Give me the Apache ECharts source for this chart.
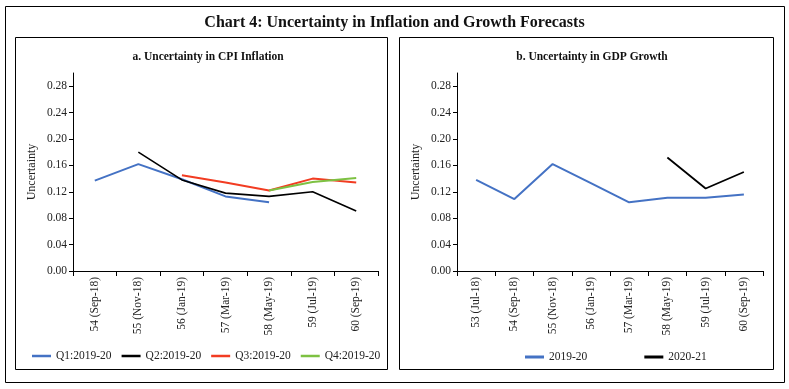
<!DOCTYPE html>
<html><head><meta charset="utf-8">
<script src="https://cdn.jsdelivr.net/npm/echarts@6/dist/echarts.min.js"></script>
<style>html,body{margin:0;padding:0;background:#fff}#c{width:789px;height:389px}</style>
</head><body><div id="c"></div>
<script>
const cpiCategories = ['54 (Sep-18)','55 (Nov-18)','56 (Jan-19)','57 (Mar-19)','58 (May-19)','59 (Jul-19)','60 (Sep-19)'];
const cpiQ1 = [0.137, 0.162, 0.139, 0.113, 0.104, null, null];
const cpiQ2 = [null, 0.180, 0.138, 0.118, 0.113, 0.120, 0.091];
const cpiQ3 = [null, null, 0.145, 0.134, 0.122, 0.140, 0.134];
const cpiQ4 = [null, null, null, null, 0.122, 0.135, 0.141];
const gdpCategories = ['53 (Jul-18)','54 (Sep-18)','55 (Nov-18)','56 (Jan-19)','57 (Mar-19)','58 (May-19)','59 (Jul-19)','60 (Sep-19)'];
const gdp2019 = [0.138, 0.109, 0.162, 0.133, 0.104, 0.111, 0.111, 0.116];
const gdp2020 = [null, null, null, null, null, 0.172, 0.125, 0.150];
const yTicks = [0, 0.04, 0.08, 0.12, 0.16, 0.20, 0.24, 0.28];

const FONT = 'Liberation Serif';
const chart = echarts.init(document.getElementById('c'));
function yAxis(gi){
  return {type:'value', gridIndex:gi, min:0, max:0.30, interval:0.04,
    name:'Uncertainty', nameLocation:'middle', nameGap:35, nameRotate:90,
    nameTextStyle:{fontFamily:FONT, fontSize:12, color:'#222'},
    axisLine:{show:true, lineStyle:{color:'#000', width:1}},
    axisTick:{show:true, length:4, lineStyle:{color:'#000'}},
    splitLine:{show:false},
    axisLabel:{fontFamily:FONT, fontSize:11.5, color:'#222', margin:6, showMaxLabel:false,
      formatter:v=> yTicks.some(t=>Math.abs(t-v)<1e-9) ? v.toFixed(2) : ''}};
}
function xAxis(gi, cats){
  return {type:'category', gridIndex:gi, data:cats, boundaryGap:true,
    axisLine:{lineStyle:{color:'#000', width:1}},
    axisTick:{show:true, length:5, lineStyle:{color:'#000'}},
    axisLabel:{rotate:90, fontFamily:FONT, fontSize:11.5, color:'#222', margin:6, interval:0}};
}
function line(name, data, color, xi, w){
  return {name, type:'line', xAxisIndex:xi, yAxisIndex:xi, data, showSymbol:false, symbol:'none',
    connectNulls:false, lineStyle:{color, width:w}, itemStyle:{color}};
}
const C = {blue:'#4472C4', black:'#000000', red:'#F23C22', green:'#7DC142'};
chart.setOption({
  animation:false,
  title:[
    {text:'Chart 4: Uncertainty in Inflation and Growth Forecasts', left:'center', top:10,
      textStyle:{fontFamily:FONT, fontSize:16, fontWeight:'bold', color:'#111'}},
    {text:'a. Uncertainty in CPI Inflation', left:203, textAlign:'center', top:46,
      textStyle:{fontFamily:FONT, fontSize:11.5, fontWeight:'bold', color:'#111'}},
    {text:'b. Uncertainty in GDP Growth', left:587, textAlign:'center', top:46,
      textStyle:{fontFamily:FONT, fontSize:11.5, fontWeight:'bold', color:'#111'}}
  ],
  graphic:[
    {type:'rect', shape:{x:5.5, y:6.5, width:779, height:376}, style:{fill:null, stroke:'#000', lineWidth:1}},
    {type:'rect', shape:{x:15.5, y:37.5, width:372, height:332}, style:{fill:null, stroke:'#000', lineWidth:1}},
    {type:'rect', shape:{x:399.5, y:37.5, width:374, height:332}, style:{fill:null, stroke:'#000', lineWidth:1}}
  ],
  grid:[
    {left:73, right:411, top:73, bottom:118},
    {left:457, right:26, top:73, bottom:118}
  ],
  xAxis:[xAxis(0, cpiCategories), xAxis(1, gdpCategories)],
  yAxis:[yAxis(0), yAxis(1)],
  legend:[
    {data:['Q1:2019-20','Q2:2019-20','Q3:2019-20','Q4:2019-20'], left:27, top:345, icon:'rect',
      itemWidth:19, itemHeight:2.5, itemGap:10, textStyle:{fontFamily:FONT, fontSize:11.5, color:'#222'}},
    {data:['2019-20','2020-21'], left:520, top:346, icon:'rect',
      itemWidth:19, itemHeight:3, itemGap:57, textStyle:{fontFamily:FONT, fontSize:11.5, color:'#222'}}
  ],
  series:[
    line('Q1:2019-20', cpiQ1, C.blue, 0, 2),
    line('Q2:2019-20', cpiQ2, C.black, 0, 1.6),
    line('Q3:2019-20', cpiQ3, C.red, 0, 2),
    line('Q4:2019-20', cpiQ4, C.green, 0, 2),
    line('2019-20', gdp2019, C.blue, 1, 2),
    line('2020-21', gdp2020, C.black, 1, 1.8)
  ]
});
</script></body></html>
